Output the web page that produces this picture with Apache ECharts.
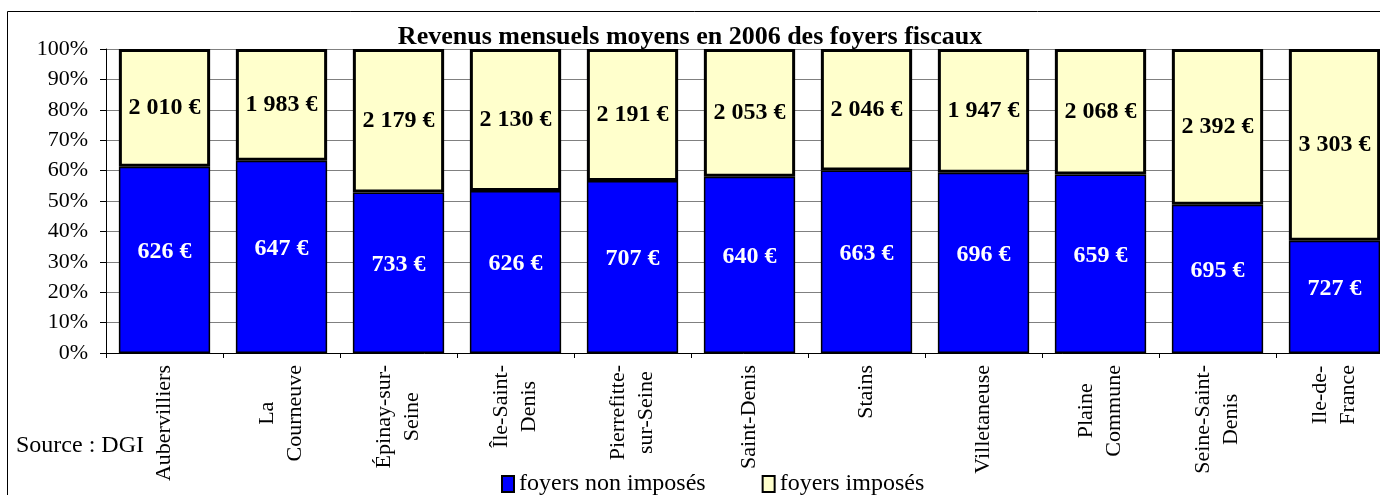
<!DOCTYPE html>
<html lang="fr">
<head>
<meta charset="UTF-8">
<title>Revenus mensuels moyens en 2006 des foyers fiscaux</title>
<script src="https://cdn.jsdelivr.net/npm/echarts@6/dist/echarts.min.js"></script>
<style>
    html, body { margin: 0; padding: 0; background: #fff; overflow: hidden; }
    #chart { width: 1380px; height: 495px; }
</style>
</head>
<body>
<div id="chart"></div>
<script>
    var communes = ['Aubervilliers', 'La\nCourneuve', 'Épinay-sur-\nSeine', 'Île-Saint-\nDenis',
        'Pierrefitte-\nsur-Seine', 'Saint-Denis', 'Stains', 'Villetaneuse', 'Plaine\nCommune',
        'Seine-Saint-\nDenis', 'Ile-de-\nFrance'];

    // part des foyers, en %
    var partNonImposes = [61.3, 63.2, 52.8, 53.3, 56.6, 58.0, 60.0, 59.3, 58.7, 48.8, 36.9];
    var partImposes = [38.7, 36.8, 47.2, 46.7, 43.4, 42.0, 40.0, 40.7, 41.3, 51.2, 63.1];

    // revenus mensuels moyens, en euros
    var revenuNonImposes = [626, 647, 733, 626, 707, 640, 663, 696, 659, 695, 727];
    var revenuImposes = [2010, 1983, 2179, 2130, 2191, 2053, 2046, 1947, 2068, 2392, 3303];

    var serif = "'Liberation Serif', 'Times New Roman', serif";

    function euros(v) {
        return String(v).replace(/\B(?=(\d{3})+(?!\d))/g, ' ') + ' €';
    }

    var chart = echarts.init(document.getElementById('chart'));

    chart.setOption({
        animation: false,
        title: {
            text: 'Revenus mensuels moyens en 2006 des foyers fiscaux',
            left: 'center',
            top: 19,
            textStyle: { fontFamily: serif, fontSize: 26, fontWeight: 'bold', color: '#000' }
        },
        legend: {
            left: 496,
            top: 467,
            icon: 'rect',
            itemWidth: 12,
            itemHeight: 16,
            itemGap: 56,
            textStyle: { fontFamily: serif, fontSize: 24, color: '#000' },
            data: ['foyers non imposés', 'foyers imposés']
        },
        graphic: [
            {
                type: 'rect',
                shape: { x: 7.5, y: 11.5, width: 1400, height: 500 },
                style: { fill: 'none', stroke: '#000', lineWidth: 1 },
                silent: true
            },
            {
                type: 'text',
                left: 16,
                top: 434,
                style: { text: 'Source : DGI', font: '24px ' + serif, fill: '#000' }
            }
        ],
        // the plot runs past the right edge of the picture, as in the original
        grid: { left: 106, width: 1287, top: 49, bottom: 142, outerBoundsMode: 'none' },
        xAxis: {
            type: 'category',
            data: communes,
            axisLine: { lineStyle: { color: '#000', width: 1 } },
            axisTick: { show: true, length: 5, lineStyle: { color: '#000' } },
            axisLabel: {
                interval: 0,
                rotate: 90,
                margin: 12,
                formatter: function (v) {
                    return v.split('\n').map(function (s) { return '{c|' + s + '}'; }).join('\n');
                },
                rich: {
                    c: { align: 'center', fontFamily: serif, fontSize: 22, lineHeight: 28, color: '#000' }
                }
            }
        },
        yAxis: {
            type: 'value',
            min: 0,
            max: 100,
            interval: 10,
            axisLine: { show: true, lineStyle: { color: '#000', width: 1 } },
            axisTick: { show: true, length: 6, lineStyle: { color: '#000' } },
            axisLabel: {
                formatter: '{value}%',
                margin: 18,
                fontFamily: serif,
                fontSize: 22,
                color: '#000'
            },
            splitLine: { lineStyle: { color: '#808080', width: 1 } }
        },
        series: [
            {
                name: 'foyers non imposés',
                type: 'bar',
                stack: 'foyers',
                barCategoryGap: '22%',
                data: partNonImposes,
                itemStyle: { color: '#0000ff', borderColor: '#000', borderWidth: 1.5 },
                label: {
                    show: true,
                    position: 'inside',
                    offset: [0, -8],
                    formatter: function (p) { return euros(revenuNonImposes[p.dataIndex]); },
                    fontFamily: serif,
                    fontSize: 24,
                    fontWeight: 'bold',
                    color: '#fff'
                }
            },
            {
                name: 'foyers imposés',
                type: 'bar',
                stack: 'foyers',
                data: partImposes,
                itemStyle: { color: '#ffffcc', borderColor: '#000', borderWidth: 3 },
                label: {
                    show: true,
                    position: 'inside',
                    formatter: function (p) { return euros(revenuImposes[p.dataIndex]); },
                    fontFamily: serif,
                    fontSize: 24,
                    fontWeight: 'bold',
                    color: '#000'
                }
            }
        ]
    });
</script>
</body>
</html>
